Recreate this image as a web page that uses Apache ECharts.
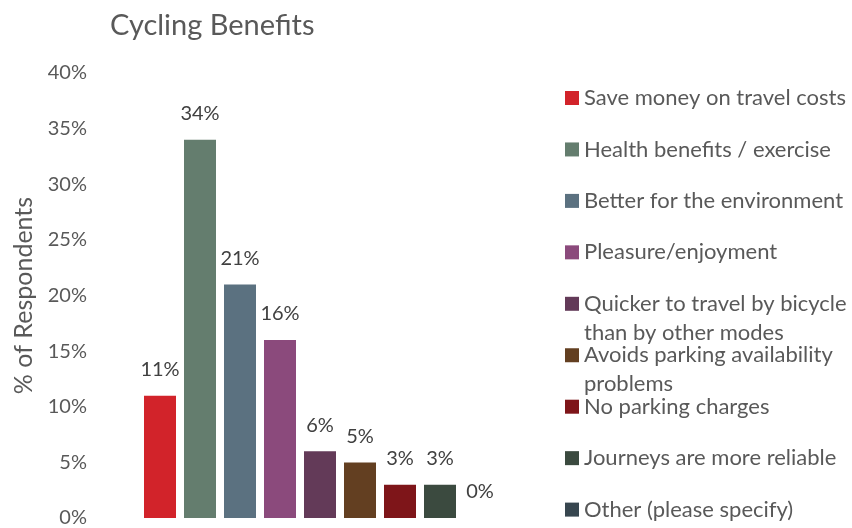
<!DOCTYPE html>
<html>
<head>
<meta charset="utf-8">
<script src="https://cdn.jsdelivr.net/npm/echarts@6/dist/echarts.min.js"></script>
<style>
  html, body { margin: 0; padding: 0; background: #fff; }
  #chart { width: 852px; height: 528px; }
</style>
</head>
<body>
<div id="chart"></div>
<script>
// Survey answers: why respondents cycle
const categories = [
  'Save money on travel costs',
  'Health benefits / exercise',
  'Better for the environment',
  'Pleasure/enjoyment',
  'Quicker to travel by bicycle\nthan by other modes',
  'Avoids parking availability\nproblems',
  'No parking charges',
  'Journeys are more reliable',
  'Other (please specify)'
];
const values = [11, 34, 21, 16, 6, 5, 3, 3, 0];
const colors = [
  '#D2232A', '#647D6E', '#5B7180', '#8B4A7C', '#633A58',
  '#633F21', '#7E1519', '#3B4A3F', '#37464F'
];
const yTicks = [0, 5, 10, 15, 20, 25, 30, 35, 40];

const FONT = 'Lato';
const textGrey = '#595959';
const legendLine = 29;
const legendFirst = 98;
const legendStep = 51.45;

// One series per answer so each gets its own legend entry;
// a shared stack keeps every bar centred in its own slot.
const series = categories.map((name, i) => ({
  name: name,
  type: 'bar',
  stack: 'all',
  barWidth: 32,
  itemStyle: { color: colors[i] },
  label: {
    show: true,
    position: 'top',
    distance: 16,
    formatter: p => p.value + '%',
    color: '#404040',
    fontFamily: FONT,
    fontSize: 20
  },
  data: values.map((v, j) => (j === i ? v : null))
}));

// One legend block per answer, so wrapped names keep the even row rhythm.
// Wrapped names get a blank leading line so the swatch sits on the first line.
const legends = categories.map((name, i) => {
  const extra = name.split('\n').length - 1;
  const center = legendFirst + i * legendStep;
  return {
    orient: 'vertical',
    left: 565,
    top: center - legendLine / 2 - extra * legendLine,
    padding: 0,
    icon: 'rect',
    itemWidth: 14,
    itemHeight: 14,
    itemGap: 6,
    selectedMode: false,
    formatter: n => (extra ? '\n'.repeat(extra) + n : n),
    textStyle: {
      color: textGrey,
      fontFamily: FONT,
      fontSize: 22,
      lineHeight: legendLine
    },
    data: [name]
  };
});

const chart = echarts.init(document.getElementById('chart'), null, { renderer: 'canvas' });
chart.setOption({
  animation: false,
  backgroundColor: '#ffffff',
  title: {
    text: 'Cycling Benefits',
    left: 105,
    top: 6,
    textStyle: { color: textGrey, fontFamily: FONT, fontSize: 29, fontWeight: 'normal' }
  },
  legend: legends,
  grid: { left: 140, right: 352, top: 73, bottom: 7.5 },
  xAxis: {
    type: 'category',
    data: categories,
    axisLine: { show: false },
    axisTick: { show: false },
    axisLabel: { show: false },
    splitLine: { show: false }
  },
  yAxis: {
    type: 'value',
    min: yTicks[0],
    max: yTicks[yTicks.length - 1],
    interval: yTicks[1] - yTicks[0],
    name: '% of Respondents',
    nameLocation: 'middle',
    nameGap: 104,
    nameTextStyle: { color: textGrey, fontFamily: FONT, fontSize: 25 },
    axisLine: { show: false },
    axisTick: { show: false },
    splitLine: { show: false },
    axisLabel: {
      color: textGrey,
      fontFamily: FONT,
      fontSize: 20,
      margin: 53,
      formatter: '{value}%'
    }
  },
  series: series
});
</script>
</body>
</html>
